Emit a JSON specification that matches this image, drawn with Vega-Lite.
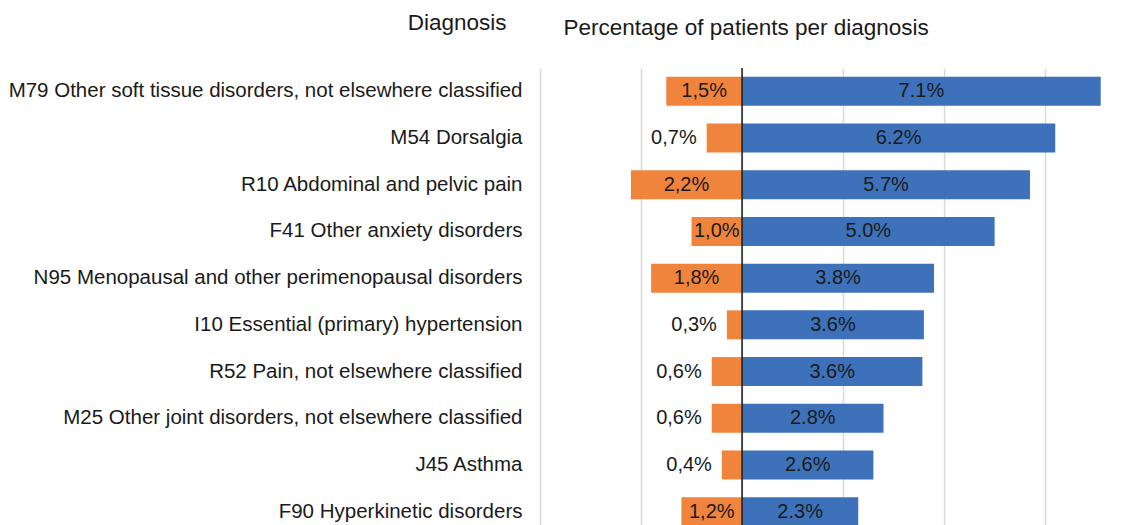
{
  "$schema": "https://vega.github.io/schema/vega-lite/v6.json",
  "width": 591,
  "height": 467,
  "autosize": "none",
  "padding": {"left": 540, "top": 68, "right": 0, "bottom": 0},
  "background": "white",
  "config": {"view": {"stroke": null}, "font": "Liberation Sans", "text": {"font": "Liberation Sans"}},
  "data": {
    "values": [
      {"diagnosis": "M79 Other soft tissue disorders, not elsewhere classified", "blue": 0.071, "orange": 0.015},
      {"diagnosis": "M54 Dorsalgia", "blue": 0.062, "orange": 0.007},
      {"diagnosis": "R10 Abdominal and pelvic pain", "blue": 0.057, "orange": 0.022},
      {"diagnosis": "F41 Other anxiety disorders", "blue": 0.050, "orange": 0.010},
      {"diagnosis": "N95 Menopausal and other perimenopausal disorders", "blue": 0.038, "orange": 0.018},
      {"diagnosis": "I10 Essential (primary) hypertension", "blue": 0.036, "orange": 0.003},
      {"diagnosis": "R52 Pain, not elsewhere classified", "blue": 0.0357, "orange": 0.006},
      {"diagnosis": "M25 Other joint disorders, not elsewhere classified", "blue": 0.028, "orange": 0.006},
      {"diagnosis": "J45 Asthma", "blue": 0.026, "orange": 0.004},
      {"diagnosis": "F90 Hyperkinetic disorders", "blue": 0.023, "orange": 0.012}
    ]
  },
  "layer": [
    {
      "mark": {"type": "bar", "color": "#3D72BB"},
      "encoding": {
        "y": {
          "field": "diagnosis", "type": "nominal", "sort": null,
          "scale": {"paddingInner": 0.38, "paddingOuter": 0.19},
          "axis": {
            "title": "Diagnosis", "titleAngle": 0, "titleAlign": "right", "titleBaseline": "middle",
            "titleX": -34, "titleY": -46, "titleFontSize": 22.5, "titleFontWeight": "normal",
            "titleColor": "#1a1a1a", "titleFont": "Liberation Sans",
            "labelFontSize": 20.5, "labelPadding": 18, "labelColor": "#1a1a1a", "labelFont": "Liberation Sans",
            "labelLimit": 1000, "ticks": false, "domain": false
          }
        },
        "x": {
          "field": "blue", "type": "quantitative",
          "scale": {"domain": [-0.04, 0.077], "nice": false, "zero": false},
          "axis": {
            "orient": "top", "values": [-0.04, -0.02, 0, 0.02, 0.04, 0.06],
            "labels": false, "ticks": false, "domain": false, "grid": true,
            "gridColor": "#D9D9D9", "gridWidth": 1.5,
            "title": "Percentage of patients per diagnosis", "titleFontSize": 22.5, "titleFontWeight": "normal",
            "titleColor": "#1a1a1a", "titleFont": "Liberation Sans",
            "titleX": 23, "titleY": -41, "titleAlign": "left", "titleBaseline": "middle"
          }
        }
      }
    },
    {
      "mark": {"type": "text", "fontSize": 20, "color": "#1a1a1a"},
      "encoding": {
        "y": {"field": "diagnosis", "type": "nominal", "sort": null},
        "x": {"field": "blue", "type": "quantitative", "scale": {"domain": [-0.08, 0.154], "nice": false, "zero": false}, "axis": null},
        "text": {"field": "blue", "type": "quantitative", "format": ".1%"}
      }
    },
    {
      "mark": {"type": "bar", "color": "#F0843C"},
      "encoding": {
        "y": {"field": "diagnosis", "type": "nominal", "sort": null},
        "x": {"field": "orange", "type": "quantitative", "scale": {"domain": [-0.077, 0.04], "nice": false, "zero": false, "reverse": true}, "axis": null}
      }
    },
    {
      "transform": [{"filter": "datum.orange >= 0.01"}],
      "mark": {"type": "text", "fontSize": 20, "color": "#1a1a1a", "text": {"expr": "replace(format(datum.orange, '.1%'), '.', ',')"}},
      "encoding": {
        "y": {"field": "diagnosis", "type": "nominal", "sort": null},
        "x": {"field": "orange", "type": "quantitative", "scale": {"domain": [-0.154, 0.08], "nice": false, "zero": false, "reverse": true}, "axis": null}
      }
    },
    {
      "transform": [{"filter": "datum.orange < 0.01"}],
      "mark": {"type": "text", "fontSize": 20, "color": "#1a1a1a", "align": "right", "dx": -10, "text": {"expr": "replace(format(datum.orange, '.1%'), '.', ',')"}},
      "encoding": {
        "y": {"field": "diagnosis", "type": "nominal", "sort": null},
        "x": {"field": "orange", "type": "quantitative", "scale": {"domain": [-0.077, 0.04], "nice": false, "zero": false, "reverse": true}, "axis": null}
      }
    },
    {
      "data": {"values": [{"zero": 0}]},
      "mark": {"type": "rule", "color": "#1a1a1a", "strokeWidth": 1.5},
      "encoding": {
        "x": {"field": "zero", "type": "quantitative", "scale": {"domain": [-0.04, 0.077], "nice": false, "zero": false}, "axis": null}
      }
    }
  ],
  "resolve": {"scale": {"x": "independent"}}
}
